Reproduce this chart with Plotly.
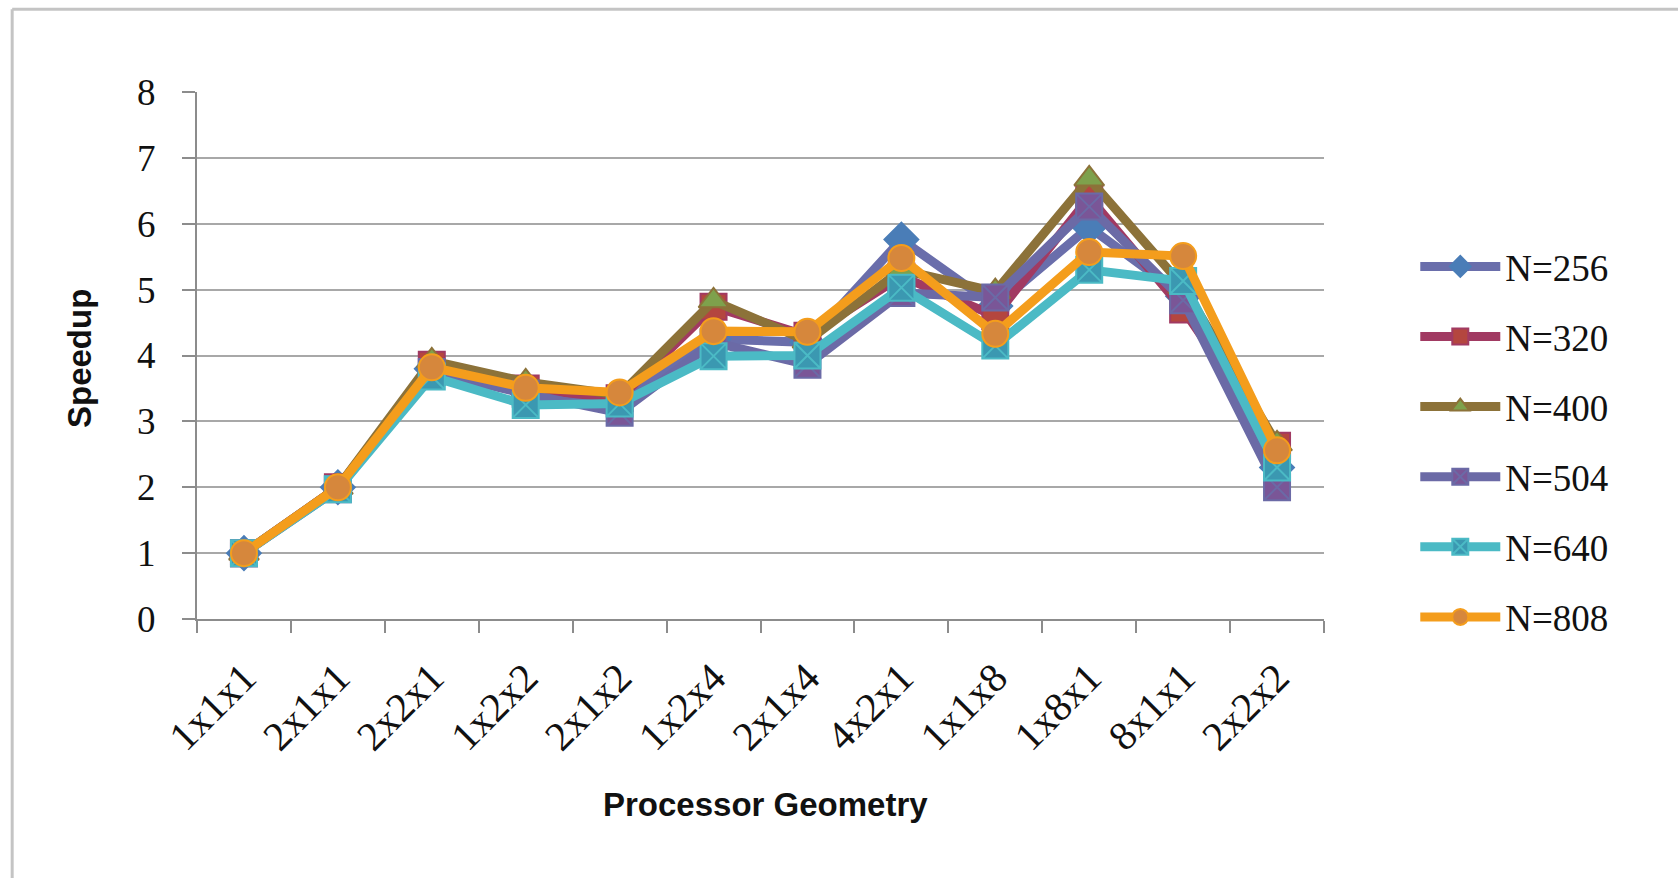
import plotly.graph_objects as go

# Processor geometries (x categories)
geometries = ["1x1x1", "2x1x1", "2x2x1", "1x2x2", "2x1x2", "1x2x4",
              "2x1x4", "4x2x1", "1x1x8", "1x8x1", "8x1x1", "2x2x2"]

# Measured speedup per problem size
speedup_n256 = [1.0, 2.0, 3.80, 3.45, 3.30, 4.25, 4.20, 5.76, 4.75, 5.95, 4.90, 2.30]
speedup_n320 = [1.0, 2.0, 3.86, 3.50, 3.35, 4.74, 4.30, 5.20, 4.60, 6.40, 4.70, 2.63]
speedup_n400 = [1.0, 2.0, 3.92, 3.60, 3.40, 4.83, 4.22, 5.30, 4.97, 6.68, 5.05, 2.66]
speedup_n504 = [1.0, 1.97, 3.75, 3.42, 3.13, 4.20, 3.86, 4.95, 4.88, 6.26, 4.84, 2.00]
speedup_n640 = [1.0, 1.97, 3.68, 3.25, 3.27, 3.99, 4.00, 5.03, 4.15, 5.30, 5.13, 2.30]
speedup_n808 = [1.0, 2.0, 3.82, 3.51, 3.44, 4.37, 4.36, 5.48, 4.33, 5.57, 5.51, 2.56]

series_names = ["N=256", "N=320", "N=400", "N=504", "N=640", "N=808"]
series_values = [speedup_n256, speedup_n320, speedup_n400,
                 speedup_n504, speedup_n640, speedup_n808]

# line colour, marker fill, marker outline, marker symbol
styles = [
    ("#6a6eab", "#4a7db7", "#4a7db7", "diamond"),
    ("#a13a62", "#b4463f", "#a13a62", "square"),
    ("#8c7239", "#7ea14c", "#8c7239", "triangle-up"),
    ("#6b6aa6", "#7a5697", "#6b6aa6", "square-x"),
    ("#4bbac5", "#3b98b1", "#4bbac5", "square-x"),
    ("#f49d1c", "#d6873c", "#f49d1c", "circle"),
]

fig = go.Figure()
for name, vals, (lc, mf, ml, sym) in zip(series_names, series_values, styles):
    fig.add_trace(go.Scatter(
        x=geometries, y=vals, name=name, legendgroup=name,
        mode="lines+markers",
        line=dict(color=lc, width=9),
        marker=dict(symbol=sym, size=26, color=mf, line=dict(color=ml, width=2)),
    ))

serif = "Liberation Serif, Times New Roman, serif"
sans = "Liberation Sans, Arial, sans-serif"

fig.update_layout(
    width=1678, height=878,
    margin=dict(l=197, r=354, t=92, b=259),
    paper_bgcolor="white", plot_bgcolor="white",
    showlegend=True,
    legend=dict(
        x=1.081, xanchor="left", y=0.727, yanchor="top",
        font=dict(family=serif, size=37, color="#111111"),
        itemwidth=80, tracegroupgap=19, bgcolor="rgba(0,0,0,0)",
    ),
    xaxis=dict(
        type="category", range=[-0.5, len(geometries) - 0.5],
        tickangle=-45, tickson="boundaries",
        ticks="outside", ticklen=12, tickcolor="#8c8c8c", tickwidth=2,
        showline=True, linecolor="#8c8c8c", linewidth=2,
        showgrid=False, ticklabelstandoff=16,
        tickfont=dict(family=serif, size=41, color="#111111"),
    ),
    yaxis=dict(
        range=[0, 8], dtick=1, tick0=0,
        ticks="outside", ticklen=13, tickcolor="#8c8c8c", tickwidth=2,
        showline=True, linecolor="#8c8c8c", linewidth=2,
        showgrid=True, gridcolor="#a8a8a8", gridwidth=2,
        zeroline=False, ticklabelstandoff=19,
        tickfont=dict(family=serif, size=37, color="#111111"),
    ),
    annotations=[
        dict(text="<b>Processor Geometry</b>", xref="paper", yref="paper",
             x=0.504, y=-0.391, showarrow=False,
             font=dict(family=sans, size=33, color="#111111")),
        dict(text="<b>Speedup</b>", xref="paper", yref="paper",
             x=-0.123, y=0.495, showarrow=False, textangle=-90,
             font=dict(family=sans, size=33, color="#111111")),
    ],
    shapes=[
        dict(type="line", xref="paper", yref="paper",
             x0=-0.164, x1=-0.164, y0=1.157, y1=-0.6,
             line=dict(color="#c4c4c4", width=3)),
        dict(type="line", xref="paper", yref="paper",
             x0=-0.164, x1=1.4, y0=1.157, y1=1.157,
             line=dict(color="#c4c4c4", width=3)),
    ],
)

fig.write_html("out.html")
